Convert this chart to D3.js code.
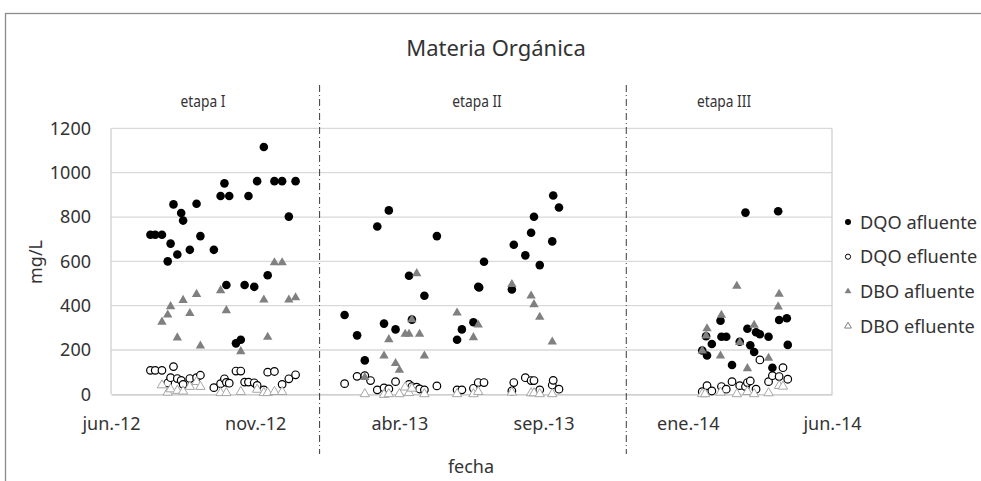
<!DOCTYPE html>
<html>
<head>
<meta charset="utf-8">
<script src="https://cdn.jsdelivr.net/npm/d3@7"></script>
<style>
    body { margin: 0; background: #fff; }
    text { font-family: "Noto Sans", "Open Sans", sans-serif; fill: #333; }
</style>
</head>
<body>
<div id="chart"></div>
<script>
// DQO afluente (mg/L)
var dqoAfluente = [
    ["2012-07-19", 720], ["2012-07-24", 720], ["2012-07-31", 720], ["2012-08-06", 600], ["2012-08-09", 680],
    ["2012-08-12", 857], ["2012-08-16", 631], ["2012-08-20", 818], ["2012-08-22", 784], ["2012-08-29", 652],
    ["2012-09-05", 860], ["2012-09-09", 714], ["2012-09-23", 652], ["2012-09-30", 895], ["2012-10-04", 952],
    ["2012-10-06", 493], ["2012-10-09", 895], ["2012-10-16", 230], ["2012-10-21", 246], ["2012-10-25", 493],
    ["2012-10-29", 895], ["2012-11-04", 485], ["2012-11-07", 962], ["2012-11-14", 1116], ["2012-11-18", 537],
    ["2012-11-25", 962], ["2012-12-03", 962], ["2012-12-10", 802], ["2012-12-17", 962],
    ["2013-02-06", 358], ["2013-02-19", 266], ["2013-02-27", 153], ["2013-03-12", 757], ["2013-03-19", 319],
    ["2013-03-24", 830], ["2013-03-31", 293], ["2013-04-14", 535], ["2013-04-17", 337], ["2013-04-30", 445],
    ["2013-05-13", 714], ["2013-06-03", 246], ["2013-06-08", 293], ["2013-06-20", 325], ["2013-06-25", 485],
    ["2013-06-26", 482], ["2013-07-01", 598], ["2013-07-30", 473], ["2013-08-01", 675], ["2013-08-13", 627],
    ["2013-08-19", 729], ["2013-08-22", 801], ["2013-08-28", 583], ["2013-09-10", 690], ["2013-09-11", 897],
    ["2013-09-17", 843],
    ["2014-02-13", 198], ["2014-02-17", 262], ["2014-02-18", 175], ["2014-02-23", 227], ["2014-03-04", 332],
    ["2014-03-05", 260], ["2014-03-10", 260], ["2014-03-16", 132], ["2014-03-24", 237], ["2014-03-30", 820],
    ["2014-04-01", 296], ["2014-04-04", 221], ["2014-04-08", 191], ["2014-04-10", 280], ["2014-04-14", 271],
    ["2014-04-23", 260], ["2014-04-27", 120], ["2014-05-03", 826], ["2014-05-04", 335], ["2014-05-12", 343],
    ["2014-05-13", 223]
];

// DQO efluente (mg/L)
var dqoEfluente = [
    ["2012-07-19", 108], ["2012-07-24", 108], ["2012-07-31", 108], ["2012-08-06", 51], ["2012-08-09", 75],
    ["2012-08-12", 125], ["2012-08-16", 71], ["2012-08-20", 63], ["2012-08-22", 45], ["2012-08-29", 71],
    ["2012-09-05", 75], ["2012-09-09", 86], ["2012-09-23", 30], ["2012-09-30", 48], ["2012-10-04", 70],
    ["2012-10-06", 54], ["2012-10-09", 50], ["2012-10-16", 105], ["2012-10-21", 105], ["2012-10-25", 55],
    ["2012-10-29", 55], ["2012-11-04", 52], ["2012-11-07", 40], ["2012-11-14", 20], ["2012-11-18", 100],
    ["2012-11-25", 103], ["2012-12-03", 45], ["2012-12-10", 70], ["2012-12-17", 88],
    ["2013-02-06", 48], ["2013-02-19", 81], ["2013-02-27", 84], ["2013-03-05", 62], ["2013-03-12", 20],
    ["2013-03-19", 29], ["2013-03-24", 24], ["2013-03-31", 57], ["2013-04-14", 45], ["2013-04-17", 35],
    ["2013-04-22", 32], ["2013-04-25", 24], ["2013-04-30", 20], ["2013-05-13", 38], ["2013-06-03", 20],
    ["2013-06-08", 20], ["2013-06-20", 27], ["2013-06-25", 53], ["2013-07-01", 53], ["2013-07-30", 15],
    ["2013-08-01", 53], ["2013-08-13", 75], ["2013-08-19", 62], ["2013-08-22", 62], ["2013-08-28", 20],
    ["2013-09-10", 42], ["2013-09-11", 63], ["2013-09-17", 23],
    ["2014-02-13", 12], ["2014-02-18", 39], ["2014-02-23", 15], ["2014-03-05", 35], ["2014-03-10", 23],
    ["2014-03-16", 57], ["2014-03-24", 39], ["2014-03-30", 35], ["2014-04-01", 53], ["2014-04-04", 60],
    ["2014-04-10", 23], ["2014-04-14", 155], ["2014-04-23", 57], ["2014-04-27", 84], ["2014-05-04", 80],
    ["2014-05-08", 120], ["2014-05-13", 68]
];

// DBO afluente (mg/L)
var dboAfluente = [
    ["2012-07-31", 330], ["2012-08-06", 362], ["2012-08-09", 400], ["2012-08-16", 259], ["2012-08-22", 428],
    ["2012-08-29", 369], ["2012-09-05", 455], ["2012-09-09", 222], ["2012-09-30", 472], ["2012-10-06", 382],
    ["2012-10-21", 197], ["2012-11-14", 430], ["2012-11-18", 262], ["2012-11-25", 598], ["2012-12-03", 598],
    ["2012-12-10", 430], ["2012-12-17", 440],
    ["2013-02-27", 80], ["2013-03-19", 177], ["2013-03-24", 251], ["2013-03-31", 143], ["2013-04-04", 113],
    ["2013-04-10", 275], ["2013-04-14", 275], ["2013-04-17", 341], ["2013-04-22", 549], ["2013-04-25", 275],
    ["2013-04-30", 177], ["2013-06-03", 371], ["2013-06-20", 260], ["2013-06-25", 317], ["2013-07-30", 500],
    ["2013-08-19", 448], ["2013-08-22", 409], ["2013-08-28", 352], ["2013-09-10", 240],
    ["2014-02-13", 200], ["2014-02-17", 268], ["2014-02-18", 300], ["2014-03-04", 177], ["2014-03-05", 361],
    ["2014-03-21", 492], ["2014-03-24", 238], ["2014-04-01", 120], ["2014-04-08", 316], ["2014-04-23", 167],
    ["2014-05-03", 399], ["2014-05-04", 456]
];

// DBO efluente (mg/L)
var dboEfluente = [
    ["2012-07-31", 45], ["2012-08-06", 12], ["2012-08-09", 27], ["2012-08-16", 20], ["2012-08-22", 17],
    ["2012-08-29", 38], ["2012-09-05", 60], ["2012-09-09", 38], ["2012-09-30", 10], ["2012-10-06", 10],
    ["2012-10-21", 15], ["2012-11-07", 25], ["2012-11-14", 10], ["2012-11-18", 10], ["2012-11-25", 15],
    ["2012-12-03", 15],
    ["2013-02-27", 5], ["2013-03-19", 2], ["2013-03-24", 5], ["2013-04-04", 5], ["2013-04-10", 35],
    ["2013-04-14", 10], ["2013-04-17", 30], ["2013-04-30", 5], ["2013-06-03", 5], ["2013-06-20", 5],
    ["2013-06-25", 15], ["2013-07-30", 12], ["2013-08-19", 9], ["2013-08-22", 9], ["2013-08-28", 5],
    ["2013-09-10", 5],
    ["2014-02-13", 5], ["2014-02-16", 5], ["2014-03-04", 12], ["2014-03-21", 5], ["2014-04-01", 15],
    ["2014-04-08", 5], ["2014-04-23", 9], ["2014-05-04", 42], ["2014-05-08", 39]
];

var seriesNames = ["DQO afluente", "DQO efluente", "DBO afluente", "DBO efluente"];
var xTickDates = ["2012-06-08", "2012-11-05", "2013-04-04", "2013-09-01", "2014-01-29", "2014-06-28"];
var xTickLabels = ["jun.-12", "nov.-12", "abr.-13", "sep.-13", "ene.-14", "jun.-14"];
var yTicks = [0, 200, 400, 600, 800, 1000, 1200];
var etapaNames = ["etapa I", "etapa II", "etapa III"];
var etapaLimits = ["2013-01-11", "2013-11-26"];

var parse = d3.timeParse("%Y-%m-%d");

var width = 981;
var height = 481;
var plot = { left: 111, right: 832, top: 128.4, bottom: 394.3 };

var svg = d3.select("#chart")
            .append("svg")
            .attr("width", width)
            .attr("height", height);

// outer chart border (chart area continues past the picture)
svg.append("rect")
   .attr("x", 5.5)
   .attr("y", 13.5)
   .attr("width", 1000)
   .attr("height", 500)
   .attr("fill", "none")
   .attr("stroke", "#8c8c8c")
   .attr("stroke-width", 1.3);

var xScale = d3.scaleTime()
               .domain([parse(xTickDates[0]), parse(xTickDates[xTickDates.length - 1])])
               .range([plot.left, plot.right]);

var yScale = d3.scaleLinear()
               .domain([0, 1200])
               .range([plot.bottom, plot.top]);

// gridlines
svg.append("g")
   .selectAll("line")
   .data(yTicks.slice(1))
   .enter()
   .append("line")
   .attr("x1", plot.left)
   .attr("x2", plot.right)
   .attr("y1", d => yScale(d))
   .attr("y2", d => yScale(d))
   .attr("stroke", "#d9d9d9")
   .attr("stroke-width", 1.3);

// plot area sides
svg.append("line")
   .attr("x1", plot.left).attr("x2", plot.left)
   .attr("y1", plot.top).attr("y2", plot.bottom)
   .attr("stroke", "#d0d0d0").attr("stroke-width", 1.3);
svg.append("line")
   .attr("x1", plot.right).attr("x2", plot.right)
   .attr("y1", plot.top).attr("y2", plot.bottom)
   .attr("stroke", "#d0d0d0").attr("stroke-width", 1.3);

// x axis
var xAxis = svg.append("g")
               .attr("transform", `translate(0, ${plot.bottom})`)
               .call(d3.axisBottom(xScale)
                       .tickValues(xTickDates.map(parse))
                       .tickSize(0)
                       .tickPadding(23)
                       .tickFormat((d, i) => xTickLabels[i]));
xAxis.select(".domain").attr("stroke", "#bfbfbf").attr("stroke-width", 1.3);
xAxis.selectAll("text").attr("font-size", 18).attr("fill", "#333")
     .attr("font-family", "Noto Sans, sans-serif");

// y axis
var yAxis = svg.append("g")
               .attr("transform", `translate(${plot.left}, 0)`)
               .call(d3.axisLeft(yScale)
                       .tickValues(yTicks)
                       .tickSize(0)
                       .tickPadding(20)
                       .tickFormat(d3.format("d")));
yAxis.select(".domain").remove();
yAxis.selectAll("text").attr("font-size", 18).attr("fill", "#333")
     .attr("font-family", "Noto Sans, sans-serif");

// stage separators
svg.append("g")
   .selectAll("line")
   .data(etapaLimits)
   .enter()
   .append("line")
   .attr("x1", d => xScale(parse(d)))
   .attr("x2", d => xScale(parse(d)))
   .attr("y1", 85)
   .attr("y2", 454)
   .attr("stroke", "#3a3a3a")
   .attr("stroke-width", 1)
   .attr("stroke-dasharray", "7,3,1,3");

// stage labels, a bit narrow like the original text boxes
svg.append("g")
   .selectAll("text")
   .data(etapaNames)
   .enter()
   .append("text")
   .attr("transform", (d, i) => `translate(${[203, 477, 724][i]}, 107) scale(0.86, 1)`)
   .attr("text-anchor", "middle")
   .attr("font-size", 16)
   .text(d => d);

// titles
svg.append("text")
   .attr("x", 496)
   .attr("y", 56)
   .attr("text-anchor", "middle")
   .attr("font-size", 22)
   .text("Materia Orgánica");

svg.append("text")
   .attr("transform", "translate(42, 262) rotate(-90)")
   .attr("text-anchor", "middle")
   .attr("font-size", 18)
   .text("mg/L");

svg.append("text")
   .attr("x", 471)
   .attr("y", 473)
   .attr("text-anchor", "middle")
   .attr("font-size", 18)
   .text("fecha");

// markers
var tri = d3.symbol().type(d3.symbolTriangle);

function drawCircles(data, fill) {
    svg.append("g")
       .selectAll("circle")
       .data(data)
       .enter()
       .append("circle")
       .attr("cx", d => xScale(parse(d[0])))
       .attr("cy", d => yScale(d[1]))
       .attr("r", fill === "black" ? 4.3 : 3.8)
       .attr("fill", fill)
       .attr("stroke", "black")
       .attr("stroke-width", fill === "black" ? 0 : 1.2);
}

function drawTriangles(data, fill, stroke) {
    svg.append("g")
       .selectAll("path")
       .data(data)
       .enter()
       .append("path")
       .attr("transform", d => `translate(${xScale(parse(d[0]))}, ${yScale(d[1]) + 0.8})`)
       .attr("d", tri.size(38))
       .attr("fill", fill)
       .attr("stroke", stroke)
       .attr("stroke-width", 1);
}

drawCircles(dqoAfluente, "black");
drawCircles(dqoEfluente, "white");
drawTriangles(dboAfluente, "#808080", "none");
drawTriangles(dboEfluente, "white", "#a6a6a6");

// legend (cut by the right edge, as in the original)
var legend = svg.append("g")
                .selectAll("g")
                .data(seriesNames)
                .enter()
                .append("g")
                .attr("transform", (d, i) => `translate(848, ${222 + i * 34.7})`);

legend.each(function(d, i) {
    var g = d3.select(this);
    if (i < 2) {
        g.append("circle")
         .attr("r", i === 0 ? 3 : 2.6)
         .attr("fill", i === 0 ? "black" : "white")
         .attr("stroke", "black")
         .attr("stroke-width", i === 0 ? 0 : 1);
    } else {
        g.append("path")
         .attr("d", d3.symbol().type(d3.symbolTriangle).size(20))
         .attr("fill", i === 2 ? "#808080" : "white")
         .attr("stroke", i === 2 ? "none" : "#808080")
         .attr("stroke-width", 1);
    }
    g.append("text")
     .attr("x", 12)
     .attr("y", 6.5)
     .attr("font-size", 18.2)
     .text(d);
});
</script>
</body>
</html>
